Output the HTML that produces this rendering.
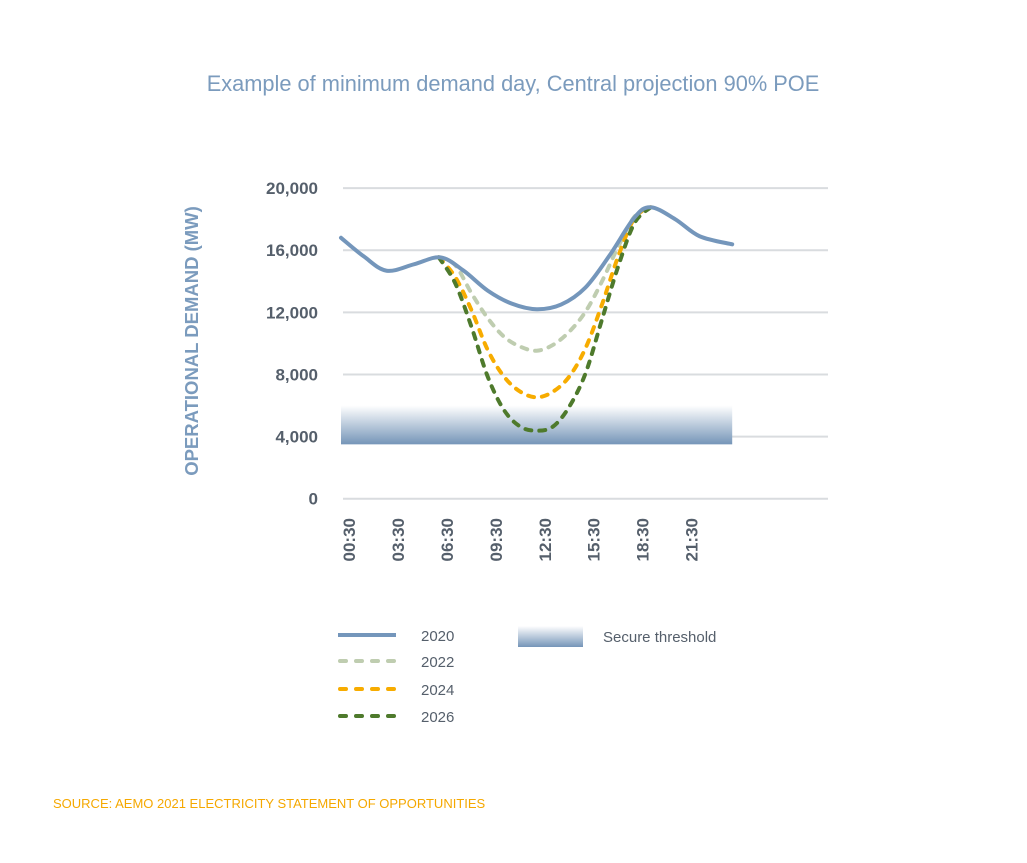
<!DOCTYPE html>
<html><head><meta charset="utf-8"><style>
body{margin:0;background:#fff;font-family:"Liberation Sans",sans-serif}
</style></head><body>
<svg width="1027" height="858" viewBox="0 0 1027 858" xmlns="http://www.w3.org/2000/svg">
<defs><linearGradient id="band" x1="0" y1="0" x2="0" y2="1"><stop offset="0" stop-color="#fff"/><stop offset="1" stop-color="#7595b8"/></linearGradient></defs>
<text x="513" y="91" text-anchor="middle" font-size="21.8" fill="#7b9bbd">Example of minimum demand day, Central projection 90% POE</text>
<g id="grid"></g>
<rect id="band-rect" fill="url(#band)"/>
<g id="series"></g>
<text transform="translate(198,341) rotate(-90)" text-anchor="middle" font-size="18.5" font-weight="bold" fill="#7b9bbd">OPERATIONAL DEMAND (MW)</text>
<g>
<line x1="338" y1="635" x2="396" y2="635" stroke="#7496bb" stroke-width="4"/>
<text x="421" y="641" font-size="15" fill="#555f6b">2020</text>
<line x1="340" y1="661" x2="396" y2="661" stroke="#bfcdb0" stroke-width="4" stroke-linecap="round" stroke-dasharray="6,10"/>
<text x="421" y="667" font-size="15" fill="#555f6b">2022</text>
<line x1="340" y1="689" x2="396" y2="689" stroke="#f7ac00" stroke-width="4" stroke-linecap="round" stroke-dasharray="6,10"/>
<text x="421" y="695" font-size="15" fill="#555f6b">2024</text>
<line x1="340" y1="716" x2="396" y2="716" stroke="#4e7a2c" stroke-width="4" stroke-linecap="round" stroke-dasharray="6,10"/>
<text x="421" y="722" font-size="15" fill="#555f6b">2026</text>
<rect x="518" y="626" width="65" height="21" fill="url(#band)"/>
<text x="603" y="642" font-size="15" fill="#555f6b">Secure threshold</text>
</g>
<text x="53" y="808" font-size="13" fill="#f5a800">SOURCE: AEMO 2021 ELECTRICITY STATEMENT OF OPPORTUNITIES</text>
</svg>
<script>
const yTicks=[0,4000,8000,12000,16000,20000];
const yTickLabels=["0","4,000","8,000","12,000","16,000","20,000"];
const xTickHours=[0.5,3.5,6.5,9.5,12.5,15.5,18.5,21.5];
const xTickLabels=["00:30","03:30","06:30","09:30","12:30","15:30","18:30","21:30"];
const hours2020=[0,1.4,2.8,4.5,6.1,7.5,9,10.5,12,13.5,15,16.5,18,19,20.5,22,24];
const s2020=[16800,15600,14680,15100,15540,14700,13400,12550,12200,12500,13600,15700,18100,18770,18000,16900,16380];
const hoursFut=[6,7,8,9,10,11,12,13,14,15,16,17,18,19];
const s2022=[15540,15050,13240,11630,10430,9790,9530,9900,10750,12040,13970,16220,18150,18770];
const s2024=[15540,14290,12150,9580,7860,6890,6530,6890,7860,9690,12470,15580,18060,18770];
const s2026=[15540,13890,11080,7860,5710,4640,4380,4640,5920,8070,11500,14940,17740,18770];
const threshold=[3500,6000];
const NS="http://www.w3.org/2000/svg";
const X=t=>341+t*16.3, Y=v=>498.7-v*0.01553;
const grid=document.getElementById('grid');
yTicks.forEach((v,i)=>{
 const l=document.createElementNS(NS,'line');
 l.setAttribute('x1',343);l.setAttribute('x2',828);l.setAttribute('y1',Y(v));l.setAttribute('y2',Y(v));
 l.setAttribute('stroke','#d9dcdf');l.setAttribute('stroke-width',2);
 
 
 grid.appendChild(l);
 const t=document.createElementNS(NS,'text');
 t.setAttribute('x',318);t.setAttribute('y',Y(v)+6);t.setAttribute('text-anchor','end');
 t.setAttribute('font-size','17');t.setAttribute('font-weight','bold');t.setAttribute('fill','#555f6b');
 t.textContent=yTickLabels[i];
 
 
 grid.appendChild(t);
});
xTickHours.forEach((h,i)=>{
 const t=document.createElementNS(NS,'text');
 t.setAttribute('transform',`translate(${X(h)+6},518) rotate(-90)`);
 t.setAttribute('text-anchor','end');
 t.setAttribute('font-size','17');t.setAttribute('font-weight','bold');t.setAttribute('fill','#555f6b');
 t.textContent=xTickLabels[i];
 
 
 grid.appendChild(t);
});
const b=document.getElementById('band-rect');
b.setAttribute('x',X(0));b.setAttribute('width',X(24)-X(0));
b.setAttribute('y',Y(threshold[1]));b.setAttribute('height',Y(threshold[0])-Y(threshold[1]));
function path(hs,vs){
 const p=hs.map((h,i)=>[X(h),Y(vs[i])]);
 let d=`M${p[0][0]},${p[0][1]}`;
 for(let i=0;i<p.length-1;i++){
  const p0=p[Math.max(i-1,0)],p1=p[i],p2=p[i+1],p3=p[Math.min(i+2,p.length-1)];
  d+=` C${p1[0]+(p2[0]-p0[0])/6},${p1[1]+(p2[1]-p0[1])/6} ${p2[0]-(p3[0]-p1[0])/6},${p2[1]-(p3[1]-p1[1])/6} ${p2[0]},${p2[1]}`;
 }
 return d;
}
const ser=document.getElementById('series');
function add(hs,vs,color,dash,name){
 const e=document.createElementNS(NS,'path');
 e.setAttribute('d',path(hs,vs));e.setAttribute('fill','none');e.setAttribute('stroke',color);
 e.setAttribute('stroke-width',4);e.setAttribute('stroke-linecap','round');
 if(dash)e.setAttribute('stroke-dasharray',dash);
 
 
 ser.appendChild(e);
}
add(hoursFut,s2022,'#bfcdb0','6,8','series-2022-line');
add(hoursFut,s2024,'#f7ac00','6,8','series-2024-line');
add(hoursFut,s2026,'#4e7a2c','6,8','series-2026-line');
add(hours2020,s2020,'#7496bb',null,'series-2020-line');
</script>
</body></html>
